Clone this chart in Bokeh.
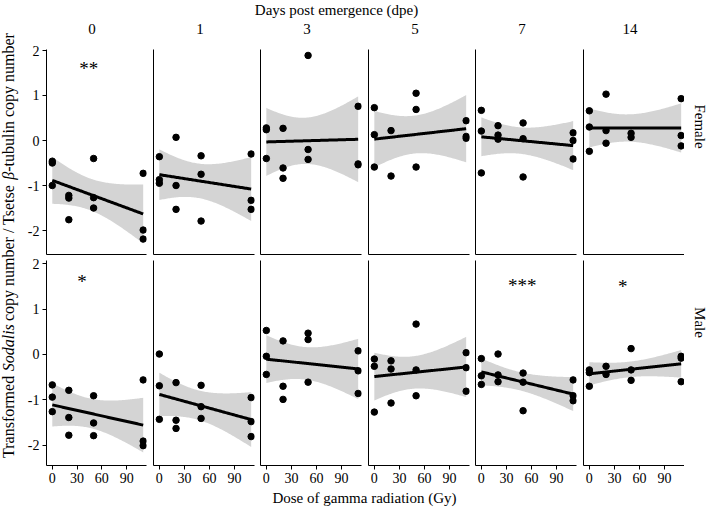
import numpy as np
from bokeh.plotting import figure
from bokeh.layouts import row, column
from bokeh.models import Range1d, FixedTicker
from bokeh.core.properties import value
from bokeh.embed import file_html
from bokeh.resources import INLINE

# ---------------- data ----------------
days = ["0", "1", "3", "5", "7", "14"]
sexes = ["Female", "Male"]
dose_ticks = [0, 30, 60, 90]
value_ticks = [-2, -1, 0, 1, 2]

dose_12 = [0, 0, 0, 20, 20, 20, 50, 50, 50, 110, 110, 110]
dose_11a = [0, 0, 0, 20, 20, 50, 50, 50, 110, 110, 110]
dose_11b = [0, 0, 0, 20, 20, 20, 50, 50, 110, 110, 110]

female_d0 = [-0.46, -0.50, -1.00, -1.22, -1.28, -1.76, -0.40, -1.27, -1.50, -0.73, -1.99, -2.19]
female_d1 = [-0.36, -0.87, -0.95, 0.07, -1.00, -1.53, -0.34, -0.75, -1.79, -0.30, -1.33, -1.53]
female_d3 = [0.28, 0.24, -0.40, 0.27, -0.61, -0.84, 1.89, -0.20, -0.42, 0.76, -0.52, -0.54]
female_d5 = [0.73, 0.13, -0.59, 0.22, -0.79, 1.05, 0.69, -0.59, 0.44, 0.09, 0.05]
female_d7 = [0.67, 0.21, -0.72, 0.33, 0.12, 0.03, 0.39, 0.04, -0.81, 0.17, 0.00, -0.41]
female_d14 = [0.66, 0.30, -0.24, 1.03, 0.22, -0.06, 0.16, 0.07, 0.93, 0.11, -0.12]

male_d0 = [-0.67, -0.94, -1.26, -0.79, -1.39, -1.78, -0.91, -1.51, -1.79, -0.56, -1.91, -2.01]
male_d1 = [0.01, -0.69, -1.43, -0.62, -1.45, -1.63, -0.68, -1.15, -1.41, -0.95, -1.48, -1.81]
male_d3 = [0.53, -0.04, -0.44, 0.30, -0.70, -0.99, 0.47, 0.33, -0.61, 0.08, -0.36, -0.86]
male_d5 = [-0.10, -0.26, -1.27, -0.14, -0.32, -1.07, 0.67, -0.34, -0.91, 0.04, -0.29, -0.81]
male_d7 = [-0.09, -0.47, -0.66, 0.01, -0.45, -0.60, -0.41, -0.61, -1.24, -0.56, -0.91, -1.02]
male_d14 = [-0.34, -0.40, -0.70, -0.26, -0.44, 0.13, -0.34, -0.57, -0.04, -0.08, -0.60]

female_doses = [dose_12, dose_12, dose_12, dose_11a, dose_12, dose_11b]
female_vals = [female_d0, female_d1, female_d3, female_d5, female_d7, female_d14]
male_doses = [dose_12, dose_12, dose_12, dose_12, dose_12, dose_11a]
male_vals = [male_d0, male_d1, male_d3, male_d5, male_d7, male_d14]

# significance marks: row (0 female, 1 male), column, text, position
star_row = [0, 1, 1, 1]
star_col = [0, 0, 4, 5]
star_text = ["**", "*", "***", "*"]
star_dose = [44, 36, 49, 40]
star_val = [1.64, 1.66, 1.56, 1.55]

t975 = {8: 2.306, 9: 2.262, 10: 2.228, 11: 2.201, 12: 2.179}

# ---------------- layout constants ----------------
FONT = "Liberation Serif"
YLAB_W = 24
col_w = [126, 107, 108, 107, 108, 104]
col_l = [21, 3, 3, 3, 3, 3]
col_r = [4, 3, 4, 3, 4, 0]
RSTRIP_W = 24
HEADER_H = 44
FOOTER_H = 19
row_h = [213, 234]
row_t = [5, 3]
row_b = [3, 26]
row_yr = [(-2.533, 2.022), (-2.448, 2.073)]
X_RANGE = (-7, 114)
BAND = "#d4d4d4"
GRID_H = sum(row_h)
TOTAL_H = HEADER_H + GRID_H + FOOTER_H
MAIN_W = sum(col_w) + RSTRIP_W


def blank(w, h):
    p = figure(width=w, height=h, x_range=Range1d(0, w), y_range=Range1d(0, h),
               min_border=0, x_axis_location=None, y_axis_location=None,
               toolbar_location=None, output_backend="svg",
               outline_line_color=None, background_fill_color="white",
               border_fill_color="white")
    p.grid.visible = False
    return p


def style_axis(ax, ticks, labels):
    ax.ticker = FixedTicker(ticks=ticks)
    ax.axis_line_color = "black"
    ax.axis_line_width = 1
    ax.major_tick_line_color = "black"
    ax.minor_tick_line_color = None
    ax.major_tick_in = 0
    ax.major_label_text_font = FONT
    ax.major_label_text_color = "black"
    if labels:
        ax.major_tick_out = 4
        ax.major_label_standoff = 3
        ax.major_label_text_font_size = "14px"
        ax.major_label_overrides = {t: str(t) for t in ticks}
    else:
        ax.major_tick_out = 0
        ax.major_label_standoff = 0
        ax.major_label_text_font_size = "0px"


def panel(r, c, doses, vals):
    p = figure(width=col_w[c], height=row_h[r],
               x_range=Range1d(*X_RANGE), y_range=Range1d(*row_yr[r]),
               min_border_left=col_l[c], min_border_right=col_r[c],
               min_border_top=row_t[r], min_border_bottom=row_b[r],
               toolbar_location=None, output_backend="svg",
               outline_line_color=None, background_fill_color="white",
               border_fill_color="white")
    p.grid.visible = False
    style_axis(p.xaxis[0], dose_ticks if r == 1 else [], r == 1)
    style_axis(p.yaxis[0], value_ticks if c == 0 else [], c == 0)

    x = np.asarray(doses, float)
    y = np.asarray(vals, float)
    n = len(x)
    slope, icpt = np.polyfit(x, y, 1)
    resid = y - (icpt + slope * x)
    s = np.sqrt(np.sum(resid ** 2) / (n - 2))
    xbar = x.mean()
    sxx = np.sum((x - xbar) ** 2)
    xs = np.linspace(x.min(), x.max(), 80)
    fit = icpt + slope * xs
    se = s * np.sqrt(1.0 / n + (xs - xbar) ** 2 / sxx)
    t = t975[n - 2]
    p.varea(x=xs, y1=fit - t * se, y2=fit + t * se, fill_color=BAND)
    p.scatter(x, y, size=6.5, color="black")
    p.line(xs, fit, line_color="black", line_width=3)

    for sr, sc, st, sd, sv in zip(star_row, star_col, star_text, star_dose, star_val):
        if sr == r and sc == c:
            p.text(x=[sd], y=[sv - 0.04], text=[st], text_align="center",
                   text_baseline="alphabetic", text_font=value(FONT),
                   text_font_size="19px", text_color="black")
    return p


top = [panel(0, c, female_doses[c], female_vals[c]) for c in range(6)]
bot = [panel(1, c, male_doses[c], male_vals[c]) for c in range(6)]

# frame positions in page pixels (for label placement)
frame_left = []
acc = YLAB_W
for c in range(6):
    frame_left.append(acc + col_l[c])
    acc += col_w[c]

# header: overall title and strip labels (0, 1, 3, ...)
header = blank(MAIN_W, HEADER_H)
header.text(x=[336 - YLAB_W], y=[HEADER_H - 9], text=["Days post emergence (dpe)"],
            text_align="center", text_baseline="middle", text_font=value(FONT),
            text_font_size="15px", text_color="black")
strip_x = [fl + 50.5 - 4 - YLAB_W for fl in frame_left]
header.text(x=strip_x, y=[HEADER_H - 28] * 6, text=days, text_align="center",
            text_baseline="middle", text_font=value(FONT), text_font_size="15px",
            text_color="black")

# right strip labels (Female / Male)
rstrip = blank(RSTRIP_W, GRID_H)
rs_x = 699 - (YLAB_W + sum(col_w))
rstrip.text(x=[rs_x, rs_x], y=[GRID_H - (126 - HEADER_H), GRID_H - (322 - HEADER_H)],
            text=sexes, angle=-np.pi / 2, text_align="center",
            text_baseline="middle", text_font=value(FONT), text_font_size="15px",
            text_color="black")

# footer: x axis title
footer = blank(MAIN_W, FOOTER_H)
footer.text(x=[364 - YLAB_W], y=[FOOTER_H - 6], text=["Dose of gamma radiation (Gy)"],
            text_align="center", text_baseline="middle", text_font=value(FONT),
            text_font_size="15px", text_color="black")

# y axis title with italic parts
YFS = 16
widths = {" ": .25, "T": .611, "r": .333, "a": .444, "n": .5, "s": .389, "f": .333,
          "o": .5, "m": .778, "e": .444, "d": .5, "c": .444, "p": .5, "y": .5,
          "u": .5, "b": .5, "/": .278, "t": .278, "l": .278, "i": .278, "-": .333,
          "S": .5, "β": .5}
pieces = [("Transformed ", "normal"), ("Sodalis", "italic"),
          (" copy number / Tsetse ", "normal"), ("β", "italic"),
          ("-tubulin copy number", "normal")]


def tw(s):
    return sum(widths.get(ch, .5) for ch in s) * YFS


total = sum(tw(t) for t, _ in pieces)
ylab = blank(YLAB_W, TOTAL_H)
pos = (TOTAL_H - 245) - total / 2
for txt, sty in pieces:
    lead = len(txt) - len(txt.lstrip(" "))
    ylab.text(x=[8], y=[pos + tw(" " * lead)], text=[txt.strip(" ")], angle=np.pi / 2,
              text_align="left", text_baseline="middle", text_font=value(FONT),
              text_font_size=f"{YFS}px", text_font_style=sty, text_color="black")
    pos += tw(txt)

grid = row(*[column(top[c], bot[c]) for c in range(6)], rstrip)
main = column(header, grid, footer)
page = row(ylab, main)

open("out.html", "w").write(file_html(page, INLINE))
